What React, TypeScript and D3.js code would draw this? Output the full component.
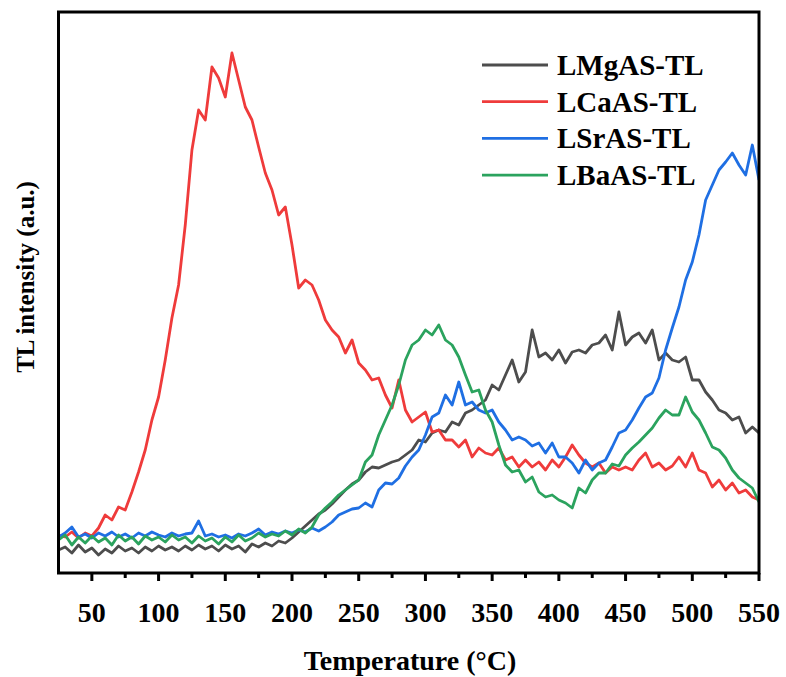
import React from "react";
import * as d3 from "d3";

const temps: number[] = d3.range(25, 551, 5);

const seriesNames = ["LMgAS-TL", "LCaAS-TL", "LSrAS-TL", "LBaAS-TL"];
const seriesColors = ["#4d4d4d", "#ef3b3b", "#1f6fe3", "#2ba35e"];

// TL intensity (a.u.), one value per 5 °C from 25 to 550 °C
const mgValues = [
  23, 26, 20, 28, 21, 25, 18, 24, 20, 27, 22, 25, 20, 26, 22, 27, 23, 26, 22, 27,
  23, 28, 24, 27, 22, 28, 24, 27, 21, 29, 26, 30, 27, 32, 30, 35, 41, 47, 53, 59,
  63, 69, 76, 83, 89, 93, 101, 106, 105, 108, 111, 113, 118, 123, 133, 131, 140, 143, 141, 151,
  148, 160, 163, 168, 173, 188, 183, 198, 213, 191, 201, 243, 216, 220, 213, 223, 210, 221, 223, 220,
  228, 230, 238, 223, 261, 228, 236, 240, 230, 243, 213, 220, 213, 211, 216, 193, 193, 181, 173, 163,
  160, 153, 156, 140, 146, 140,
];

const caValues = [
  38, 36, 41, 35, 40, 37, 45, 58, 53, 66, 63, 81, 101, 123, 153, 176, 213, 255, 288, 348,
  423, 463, 453, 506, 495, 476, 520, 493, 466, 453, 426, 400, 383, 358, 366, 328, 285, 293, 288, 273,
  253, 243, 236, 220, 233, 210, 203, 193, 195, 178, 165, 193, 163, 151, 156, 161, 141, 143, 133, 133,
  126, 133, 116, 125, 120, 118, 125, 113, 116, 106, 113, 106, 111, 103, 113, 106, 116, 128, 118, 110,
  106, 110, 100, 106, 103, 106, 103, 113, 120, 106, 110, 103, 107, 116, 106, 120, 103, 100, 86, 93,
  83, 90, 80, 83, 76, 73,
];

const srValues = [
  36, 40, 46, 36, 39, 35, 40, 37, 41, 36, 39, 35, 40, 37, 41, 38, 36, 40, 37, 39,
  40, 52, 37, 39, 36, 38, 35, 39, 37, 40, 44, 38, 41, 39, 42, 40, 43, 41, 45, 42,
  46, 51, 58, 61, 64, 65, 70, 66, 83, 90, 89, 95, 107, 116, 123, 138, 156, 160, 178, 168,
  191, 168, 171, 163, 160, 163, 151, 143, 133, 136, 133, 127, 130, 120, 130, 116, 116, 110, 100, 113,
  103, 110, 113, 126, 140, 143, 153, 165, 176, 180, 195, 223, 245, 266, 293, 311, 338, 373, 388, 403,
  411, 420, 408, 398, 428, 393,
];

const baValues = [
  33, 38, 28, 36, 30, 37, 31, 35, 28, 38, 32, 36, 29, 37, 33, 36, 31, 38, 33, 36,
  30, 37, 32, 35, 29, 36, 31, 38, 32, 35, 40, 36, 39, 37, 42, 38, 44, 40, 46, 58,
  65, 71, 78, 83, 88, 93, 111, 118, 138, 153, 168, 188, 213, 228, 233, 243, 238, 248, 233, 228,
  216, 198, 181, 183, 163, 151, 128, 108, 101, 103, 91, 96, 81, 76, 78, 73, 70, 65, 85, 80,
  93, 100, 100, 109, 107, 118, 125, 131, 138, 145, 155, 163, 158, 158, 176, 161, 153, 140, 126, 123,
  115, 103, 95, 90, 85, 71,
];

const allValues = [mgValues, caValues, srValues, baValues];

const xTicksMajor = [50, 100, 150, 200, 250, 300, 350, 400, 450, 500, 550];
const xTicksMinor = [75, 125, 175, 225, 275, 325, 375, 425, 475, 525];

export default function App() {
  const W = 786;
  const H = 677;
  const left = 58.5;
  const right = 759;
  const top = 12;
  const bottom = 573;
  const x = d3.scaleLinear().domain([25, 550]).range([left, right]);
  const y = d3.scaleLinear().domain([0, 561]).range([bottom, top]);
  const line = d3
    .line<number>()
    .x((_, i) => x(temps[i]))
    .y((d) => y(d));
  const font = "'Liberation Serif', 'Times New Roman', serif";

  return (
    <svg
      width={W}
      height={H}
      style={{ position: "absolute", left: 0, top: 0, background: "#fff" }}
      fontFamily={font}
    >
      <defs>
        <clipPath id="plotclip">
          <rect x={left} y={top} width={right - left} height={bottom - top} />
        </clipPath>
      </defs>
      <g clipPath="url(#plotclip)">
        {allValues.map((vals, k) => (
          <path
            key={k}
            d={line(vals) || ""}
            fill="none"
            stroke={seriesColors[k]}
            strokeWidth={2.8}
            strokeLinejoin="round"
          />
        ))}
      </g>
      <rect
        x={left}
        y={top}
        width={right - left}
        height={bottom - top}
        fill="none"
        stroke="#000"
        strokeWidth={3}
      />
      {xTicksMajor.map((t) => (
        <g key={"M" + t}>
          <line x1={x(t)} x2={x(t)} y1={bottom} y2={bottom + 8} stroke="#000" strokeWidth={3} />
          <text
            x={x(t)}
            y={622}
            textAnchor="middle"
            fontSize={28}
            fontWeight="bold"
          >
            {t}
          </text>
        </g>
      ))}
      {xTicksMinor.map((t) => (
        <line key={"m" + t} x1={x(t)} x2={x(t)} y1={bottom} y2={bottom + 5} stroke="#000" strokeWidth={3} />
      ))}
      <text x={410} y={670} textAnchor="middle" fontSize={28} fontWeight="bold">
        Temperature (°C)
      </text>
      <text
        transform="translate(34,277) rotate(-90)"
        textAnchor="middle"
        fontSize={25}
        fontWeight="bold"
      >
        TL intensity (a.u.)
      </text>
      {seriesNames.map((name, k) => {
        const ly = 65 + k * 36.7;
        return (
          <g key={name}>
            <line x1={482} x2={548} y1={ly} y2={ly} stroke={seriesColors[k]} strokeWidth={2.8} />
            <text x={557} y={ly + 10} fontSize={29} fontWeight="bold">
              {name}
            </text>
          </g>
        );
      })}
    </svg>
  );
}
